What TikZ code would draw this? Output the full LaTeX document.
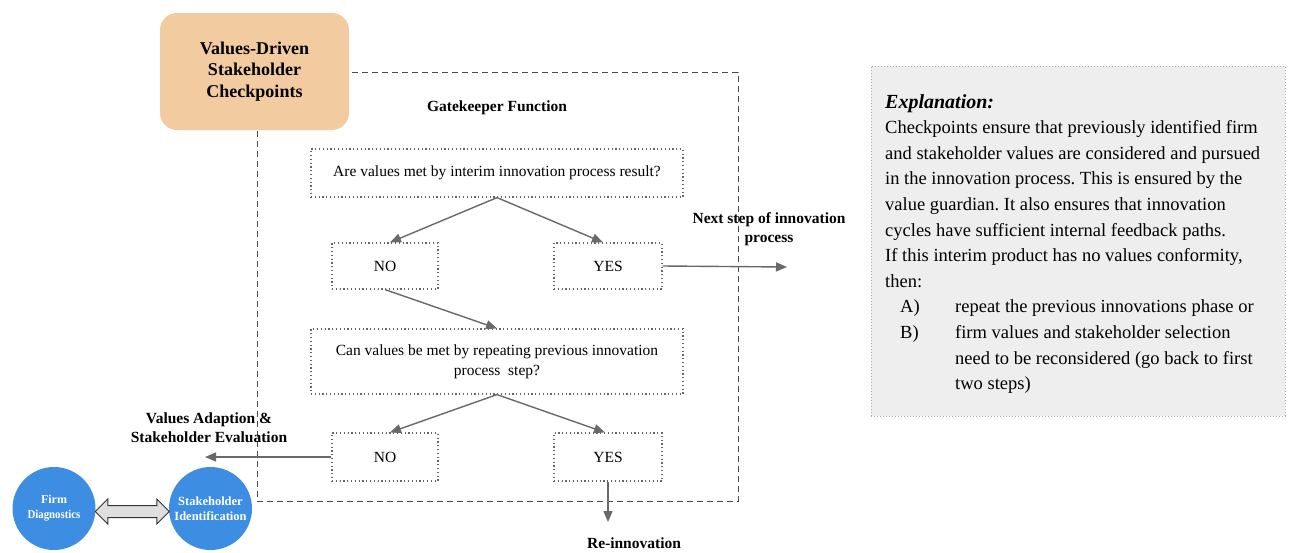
\documentclass[tikz,border=0pt]{standalone}
\usepackage{fontspec}
\setmainfont{Liberation Serif}
\frenchspacing
\usetikzlibrary{arrows.meta,shapes.arrows,calc}
\definecolor{peach}{RGB}{243,203,161}
\definecolor{discblue}{RGB}{61,142,226}
\definecolor{linegray}{RGB}{105,105,105}
\definecolor{panelgray}{RGB}{238,238,238}
\tikzset{
  flow/.style={draw=linegray, line width=1.4pt, -{Triangle[length=11pt,width=9pt]}},
  dotbox/.style={draw=gray!80!black, line width=1.2pt, dash pattern=on 1.2pt off 2.6pt,
    align=center, font=\fontsize{15.5}{20}\selectfont, inner sep=0pt},
  lbl/.style={font=\fontsize{15.5}{19}\selectfont\bfseries, align=center, inner sep=0pt},
  disc/.style={circle, fill=discblue, minimum size=83pt, inner sep=0pt, text=white,
    font=\fontsize{12}{15}\selectfont\bfseries, align=center},
}
\begin{document}
\begin{tikzpicture}[x=1pt,y=-1pt]
\useasboundingbox (0,0) rectangle (1293,552);

% gatekeeper frame
\node[draw=gray!60!black, line width=1pt, dash pattern=on 6pt off 4pt,
  minimum width=481pt, minimum height=429pt, inner sep=0pt] (gate) at (497.5,286.5) {};

% checkpoint title box
\node[fill=peach, rounded corners=17pt, minimum width=189pt, minimum height=117pt,
  font=\fontsize{18}{21.5}\selectfont\bfseries, align=center] (vdsc) at (254.5,71.5)
  {Values-Driven\\Stakeholder\\Checkpoints};

\node[lbl] (gk) at (497,108) {Gatekeeper Function};

% decision boxes
\node[dotbox, minimum width=372pt, minimum height=48pt] (q1) at (497,173)
  {Are values met by interim innovation process result?};
\node[dotbox, minimum width=106pt, minimum height=46pt] (no1) at (385,266) {NO};
\node[dotbox, minimum width=108pt, minimum height=46pt] (yes1) at (608,266) {YES};
\node[dotbox, minimum width=372pt, minimum height=65pt] (q2) at (497,361.5)
  {Can values be met by repeating previous innovation\\process\ \ step?};
\node[dotbox, minimum width=106pt, minimum height=48pt] (no2) at (385,457) {NO};
\node[dotbox, minimum width=108pt, minimum height=48pt] (yes2) at (608,457) {YES};

% outgoing labels
\node[lbl] (next) at (769,229) {Next step of innovation\\process};
\node[lbl] (reinno) at (634,543) {Re-innovation};
\node[lbl] (adapt) at (209,427.5) {Values Adaption \&\\Stakeholder Evaluation};

\coordinate (nextend) at (787,267);
\coordinate (reend) at (608,522);
\coordinate (adaptend) at (205,457);

% connectors
\draw[flow] (q1.south) -- ($(no1.north)+(5,0)$);
\draw[flow] (q1.south) -- ($(yes1.north)+(-5,0)$);
\draw[flow] (no1.south) -- (q2.north);
\draw[flow] (q2.south) -- ($(no2.north)+(5,0)$);
\draw[flow] (q2.south) -- ($(yes2.north)+(-3,0)$);
\draw[flow] (yes1.east) -- (nextend);
\draw[flow] (yes2.south) -- (reend);
\draw[flow] (no2.west) -- (adaptend);

% diagnostics discs
\node[disc] (firm) at (54,508.5) {Firm\\\scalebox{0.9}[1]{Diagnostics}};
\node[disc, font=\fontsize{12.5}{15}\selectfont\bfseries] (stake) at (210.5,508.5) {Stakeholder\\Identification};
\node[double arrow, draw=black!80, fill=gray!25, line width=1pt, minimum height=74pt,
  inner sep=5.5pt, double arrow head extend=6.5pt] (link)
  at ($(firm.east)!0.5!(stake.west)+(0,3)$) {};

% explanation panel
\node[draw=gray!65, line width=1pt, dash pattern=on 1pt off 2pt, fill=panelgray,
  minimum width=414pt, minimum height=350pt, inner sep=0pt] (panel) at (1078,241) {};
\node[anchor=north west, align=left, inner sep=0pt,
  font=\fontsize{18.5}{25.6}\selectfont] (expl) at (885,94)
  {{\fontsize{20}{25.6}\selectfont\bfseries\itshape Explanation:}\\
   Checkpoints ensure that previously identified firm\\
   and stakeholder values are considered and pursued\\
   in the innovation process. This is ensured by the\\
   value guardian. It also ensures that innovation\\
   cycles have sufficient internal feedback paths.\\
   If this interim product has no values conformity,\\
   then:\\
   \hspace*{15pt}\makebox[55pt][l]{A)}repeat the previous innovations phase or\\
   \hspace*{15pt}\makebox[55pt][l]{B)}firm values and stakeholder selection\\
   \hspace*{70pt}need to be reconsidered (go back to first\\
   \hspace*{70pt}two steps)};
\end{tikzpicture}
\end{document}
